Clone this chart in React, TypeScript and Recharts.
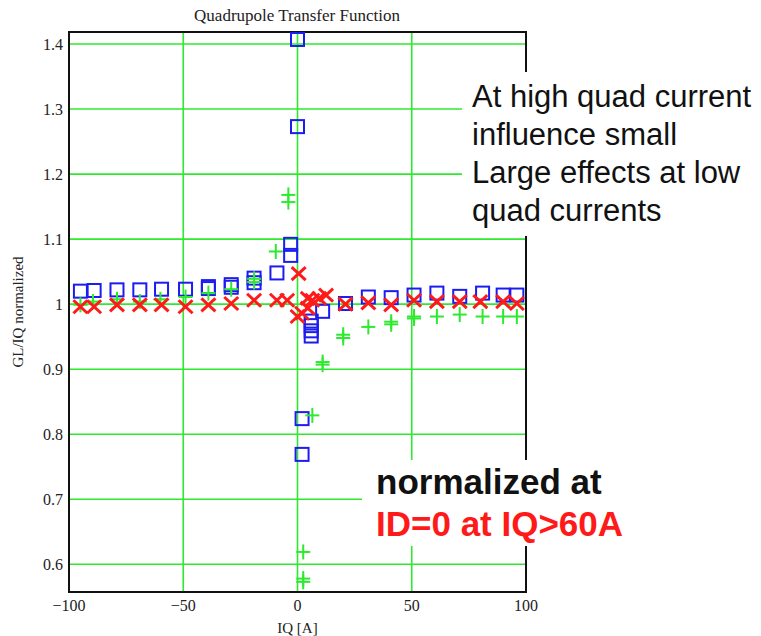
import { ScatterChart, Scatter, XAxis, YAxis, CartesianGrid, ReferenceArea, Label } from "recharts";

// IQ [A] and GL/IQ normalized
const squareX = [-95, -89, -79, -69, -59.5, -49, -39, -39, -29, -29, -19, -19, -9, -3, -3, 0, 0, 2, 2, 6, 6, 6, 6, 11, 21, 31, 41, 51, 61, 71, 81, 90, 96];
const squareY = [1.02, 1.021, 1.022, 1.022, 1.023, 1.023, 1.027, 1.024, 1.03, 1.026, 1.04, 1.033, 1.048, 1.092, 1.075, 1.407, 1.273, 0.824, 0.769, 0.974, 0.967, 0.959, 0.951, 0.989, 1.001, 1.011, 1.01, 1.014, 1.017, 1.012, 1.017, 1.014, 1.014];

const plusX = [-95, -89.5, -79, -69, -60, -49, -39, -29, -19, -19, -9.5, -4, -4, 2.5, 2.5, 2.5, 6.5, 11, 11, 20, 20, 31, 41, 41, 51, 51, 61, 71, 81, 90, 96];
const plusY = [0.999, 1.004, 1.0075, 1.004, 1.0075, 1.011, 1.017, 1.023, 1.039, 1.034, 1.081, 1.168, 1.157, 0.619, 0.578, 0.573, 0.829, 0.911, 0.907, 0.953, 0.948, 0.965, 0.973, 0.969, 0.981, 0.978, 0.981, 0.984, 0.981, 0.981, 0.981];

const crossX = [-95, -89, -79, -69, -59.5, -49, -39, -29, -19, -9, -4.5, 0.5, 0, 2, 4.5, 4.5, 6.5, 9.5, 12.5, 21, 31, 41, 51, 61, 71, 80, 90, 96];
const crossY = [0.996, 0.996, 0.999, 0.999, 0.999, 0.996, 0.999, 1.001, 1.006, 1.006, 1.006, 1.047, 0.981, 0.986, 0.994, 1.009, 1.006, 1.009, 1.014, 1.0, 1.002, 0.999, 1.006, 1.004, 1.004, 1.004, 1.004, 1.001];

const xTicks = [-100, -50, 0, 50, 100];
const yTicks = [0.6, 0.7, 0.8, 0.9, 1, 1.1, 1.2, 1.3, 1.4];

const squares = squareX.map((x, i) => ({ x, y: squareY[i] }));
const pluses = plusX.map((x, i) => ({ x, y: plusY[i] }));
const crosses = crossX.map((x, i) => ({ x, y: crossY[i] }));

const GREEN = "#2eea2e";
const BLUE = "#1c1cf0";
const RED = "#ff1a1a";
const SERIF = "'Liberation Serif', 'Times New Roman', serif";
const SANS = "'Liberation Sans', Arial, sans-serif";

const Square = (p: any) => (
  <rect x={p.cx - 6.5} y={p.cy - 6.5} width={13} height={13} fill="none" stroke={BLUE} strokeWidth={2} />
);

const Plus = (p: any) => (
  <g stroke={GREEN} strokeWidth={2}>
    <line x1={p.cx - 7} y1={p.cy} x2={p.cx + 7} y2={p.cy} />
    <line x1={p.cx} y1={p.cy - 7.5} x2={p.cx} y2={p.cy + 7.5} />
  </g>
);

const Cross = (p: any) => (
  <g stroke={RED} strokeWidth={3}>
    <line x1={p.cx - 7} y1={p.cy - 6.5} x2={p.cx + 7} y2={p.cy + 6.5} />
    <line x1={p.cx - 7} y1={p.cy + 6.5} x2={p.cx + 7} y2={p.cy - 6.5} />
  </g>
);

const fmtX = (v: number) => (v < 0 ? `\u2212${Math.abs(v)}` : `${v}`);

export default function App() {
  return (
    <div style={{ position: "absolute", left: 0, top: 0, width: 761, height: 636, background: "#fff" }}>
      <ScatterChart width={761} height={636} margin={{ top: 32, right: 235, bottom: 0, left: 0 }}>
        <CartesianGrid stroke={GREEN} strokeWidth={1.6} />
        <XAxis
          dataKey="x"
          type="number"
          domain={[-100, 100]}
          ticks={xTicks}
          tickFormatter={fmtX}
          height={44}
          tickLine={false}
          axisLine={false}
          tickSize={0}
          tickMargin={8}
          tick={{ fontSize: 16, fontFamily: SERIF, fill: "#222" }}
        >
          <Label
            content={() => (
              <text x={297.5} y={628} textAnchor="middle" dominantBaseline="central" fontSize={15} fontFamily={SERIF} fill="#222">
                IQ [A]
              </text>
            )}
          />
        </XAxis>
        <YAxis
          dataKey="y"
          type="number"
          domain={[0.5574, 1.4185]}
          ticks={yTicks}
          width={69}
          tickLine={false}
          axisLine={false}
          tickSize={0}
          tickMargin={6}
          tick={{ fontSize: 16, fontFamily: SERIF, fill: "#222" }}
        >
          <Label
            content={() => (
              <text x={18} y={312} transform="rotate(-90 18 312)" textAnchor="middle" dominantBaseline="central" fontSize={15} fontFamily={SERIF} fill="#222">
                GL/IQ normalized
              </text>
            )}
          />
        </YAxis>
        <ReferenceArea x1={-100} x2={100} y1={0.5574} y2={1.4185} fill="none" stroke="#111" strokeWidth={2} />
        <Scatter data={squares} dataKey="y" shape={Square} isAnimationActive={false} />
        <Scatter data={pluses} dataKey="y" shape={Plus} isAnimationActive={false} />
        <Scatter data={crosses} dataKey="y" shape={Cross} isAnimationActive={false} />
      </ScatterChart>

      <div style={{ position: "absolute", left: 147, top: 6, width: 300, textAlign: "center", whiteSpace: "nowrap", fontFamily: SERIF, fontSize: 17, lineHeight: "20px", color: "#222" }}>
        Quadrupole Transfer Function
      </div>

      <div style={{ position: "absolute", left: 462, top: 72, width: 299, height: 164, boxSizing: "border-box", paddingLeft: 10, paddingTop: 6, background: "#fff", fontFamily: SANS, fontSize: 31, lineHeight: "38px", color: "#111", whiteSpace: "pre" }}>
        {"At high quad current\ninfluence small\nLarge effects at low\nquad currents"}
      </div>

      <div style={{ position: "absolute", left: 362, top: 460, width: 268, height: 86, boxSizing: "border-box", paddingLeft: 14, paddingTop: 1, background: "#fff", fontFamily: SANS, fontSize: 35, fontWeight: "bold", lineHeight: "42px", whiteSpace: "pre" }}>
        <div style={{ color: "#111" }}>normalized at</div>
        <div style={{ color: "#ff1a1a" }}>ID=0 at IQ&gt;60A</div>
      </div>
    </div>
  );
}
